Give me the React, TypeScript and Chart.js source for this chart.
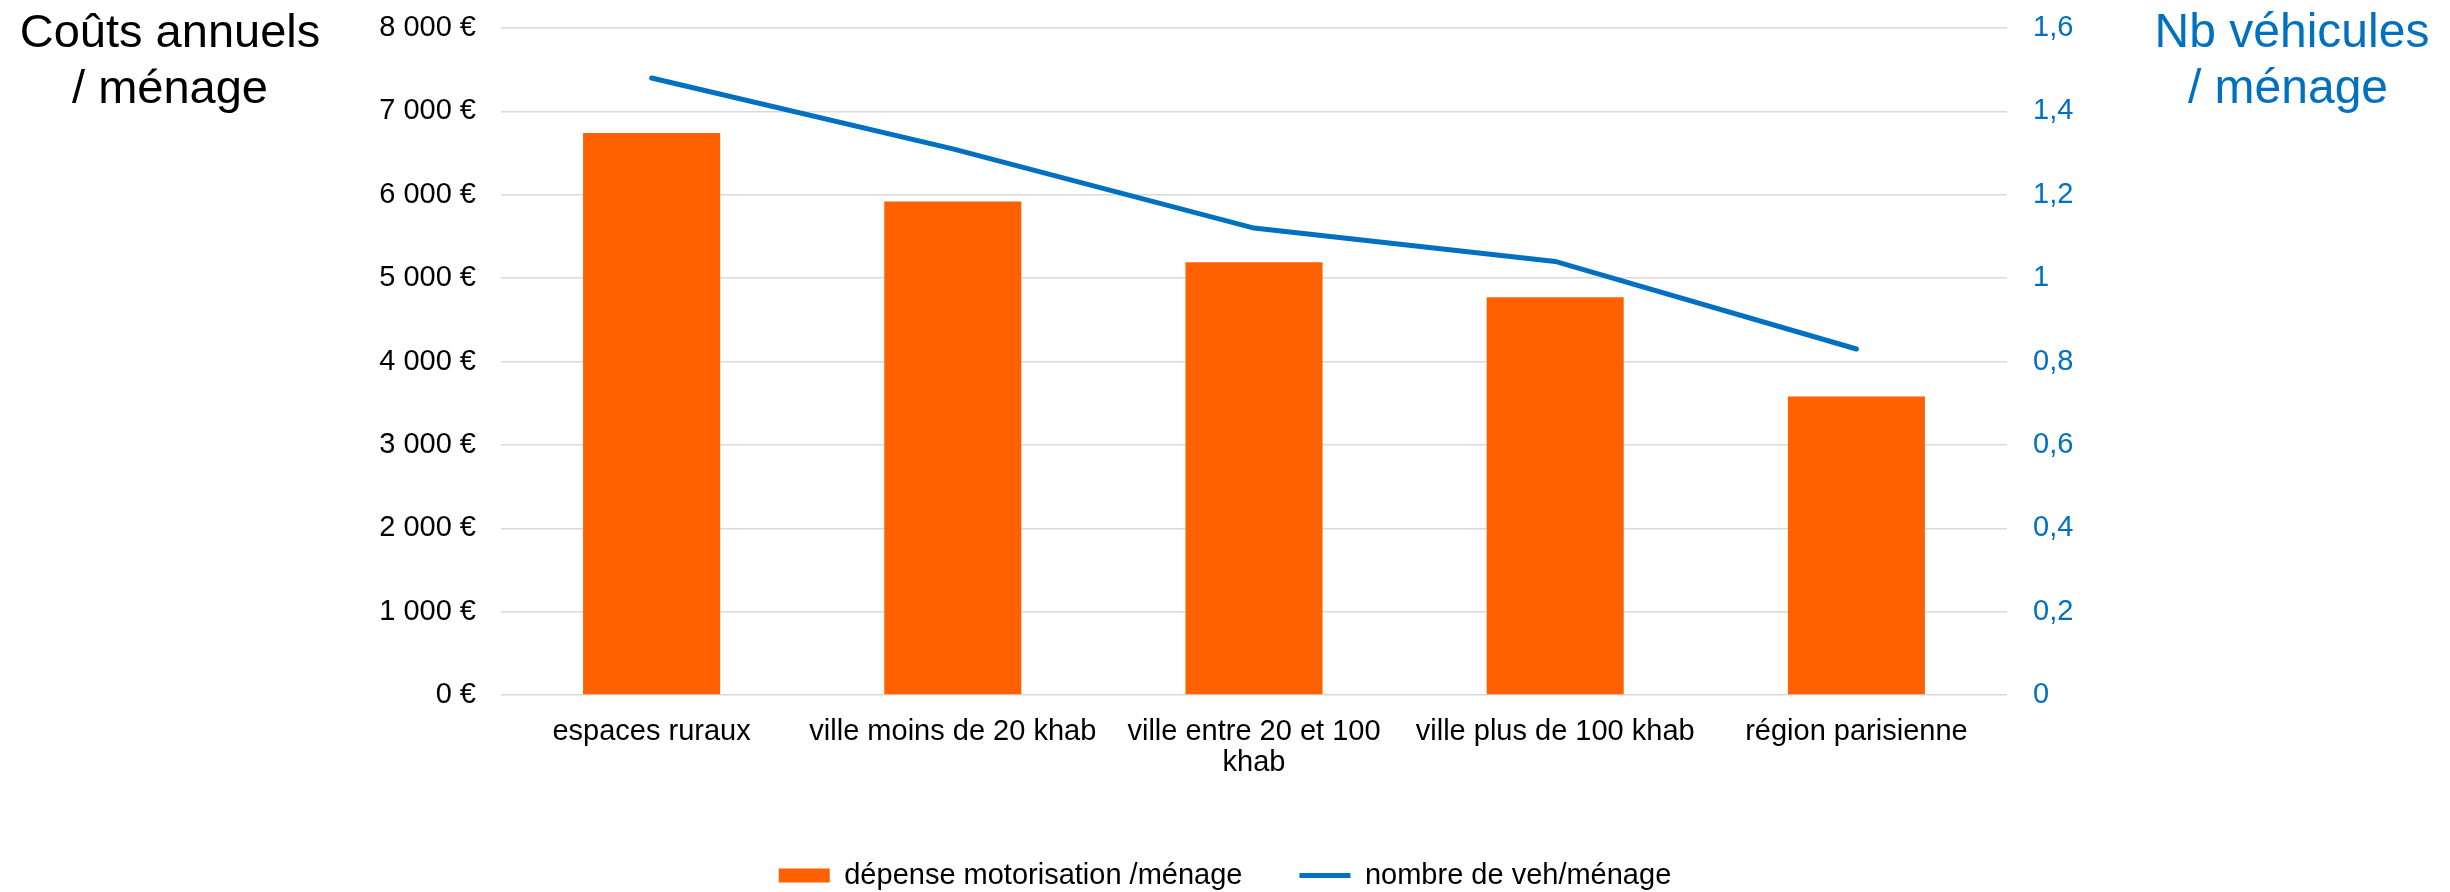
import React, { useEffect, useRef } from "react";
import { Chart, registerables } from "chart.js";

Chart.register(...registerables);

const categories: (string | string[])[] = [
  "espaces ruraux",
  "ville moins de 20 khab",
  ["ville entre 20 et 100", "khab"],
  "ville plus de 100 khab",
  "région parisienne",
];
const depenseMotorisation = [6740, 5920, 5190, 4770, 3580];
const nombreVehicules = [1.48, 1.31, 1.12, 1.04, 0.83];
const leftTickLabels = ["0 €", "1 000 €", "2 000 €", "3 000 €", "4 000 €", "5 000 €", "6 000 €", "7 000 €", "8 000 €"];
const rightTickLabels = ["0", "0,2", "0,4", "0,6", "0,8", "1", "1,2", "1,4", "1,6"];
const seriesNames = ["dépense motorisation /ménage", "nombre de veh/ménage"];
const leftTitle = ["Coûts annuels", "/ ménage"];
const rightTitle = ["Nb véhicules", "/ ménage"];

const FONT = "'Liberation Sans', Arial, sans-serif";
const ORANGE = "#FF6000";
const BLUE = "#0070C0";

const titlesPlugin = {
  id: "sideTitles",
  afterDraw(chart: any) {
    const ctx = chart.ctx;
    ctx.save();
    ctx.textAlign = "center";
    ctx.textBaseline = "alphabetic";
    ctx.font = `47px ${FONT}`;
    ctx.fillStyle = "#000000";
    ctx.fillText(leftTitle[0], 170, 47);
    ctx.fillText(leftTitle[1], 170, 103);
    ctx.font = `48px ${FONT}`;
    ctx.fillStyle = BLUE;
    ctx.fillText(rightTitle[0], 2292, 47);
    ctx.fillText(rightTitle[1], 2288, 103);
    ctx.restore();
  },
};

export default function App() {
  const ref = useRef<HTMLCanvasElement>(null);
  useEffect(() => {
    if (!ref.current) return;
    const chart = new Chart(ref.current, {
      type: "bar",
      data: {
        labels: categories as any,
        datasets: [
          {
            type: "bar",
            label: seriesNames[0],
            data: depenseMotorisation,
            backgroundColor: ORANGE,
            borderWidth: 0,
            barPercentage: 0.455,
            categoryPercentage: 1,
            yAxisID: "y",
            pointStyle: "rect",
          } as any,
          {
            type: "line",
            label: seriesNames[1],
            data: nombreVehicules,
            borderColor: BLUE,
            backgroundColor: BLUE,
            borderWidth: 5,
            borderCapStyle: "round",
            pointRadius: 0,
            pointHoverRadius: 0,
            tension: 0,
            yAxisID: "y1",
            pointStyle: "line",
          } as any,
        ],
      },
      options: {
        responsive: false,
        devicePixelRatio: 1,
        animation: false,
        layout: { padding: { top: 28, left: 0, right: 0, bottom: 0 } },
        plugins: {
          tooltip: { enabled: false },
          legend: {
            position: "bottom",
            maxHeight: 88,
            labels: {
              usePointStyle: true,
              pointStyleWidth: 51,
              boxHeight: 14,
              padding: 57,
              color: "#000000",
              font: { family: FONT, size: 29 },
            },
          },
        },
        scales: {
          x: {
            grid: { display: false, drawTicks: false },
            border: { display: false },
            ticks: {
              color: "#000000",
              font: { family: FONT, size: 29, lineHeight: 1.07 },
              padding: 21,
              maxRotation: 0,
              autoSkip: false,
            },
            afterFit: (s: any) => {
              s.height = 109;
            },
          },
          y: {
            position: "left",
            min: 0,
            max: 8000,
            grid: { color: "#D9D9D9", lineWidth: 1.5, drawTicks: false },
            border: { display: false },
            ticks: {
              stepSize: 1000,
              color: "#000000",
              font: { family: FONT, size: 29 },
              padding: 25,
              callback: (_v: any, i: number) => leftTickLabels[i],
            },
            afterFit: (s: any) => {
              s.width = 501;
              s.paddingTop = 0;
              s.paddingBottom = 0;
            },
          },
          y1: {
            position: "right",
            min: 0,
            max: 1.6,
            grid: { display: false, drawTicks: false },
            border: { display: false },
            ticks: {
              stepSize: 0.2,
              color: BLUE,
              font: { family: FONT, size: 29 },
              padding: 26,
              callback: (_v: any, i: number) => rightTickLabels[i],
            },
            afterFit: (s: any) => {
              s.width = 443;
              s.paddingTop = 0;
              s.paddingBottom = 0;
            },
          },
        },
      } as any,
      plugins: [titlesPlugin],
    });
    return () => chart.destroy();
  }, []);
  return (
    <div style={{ position: "fixed", left: 0, top: 0, width: 2450, height: 892, background: "#ffffff" }}>
      <canvas ref={ref} width={2450} height={892} style={{ display: "block", width: 2450, height: 892 }} />
    </div>
  );
}
